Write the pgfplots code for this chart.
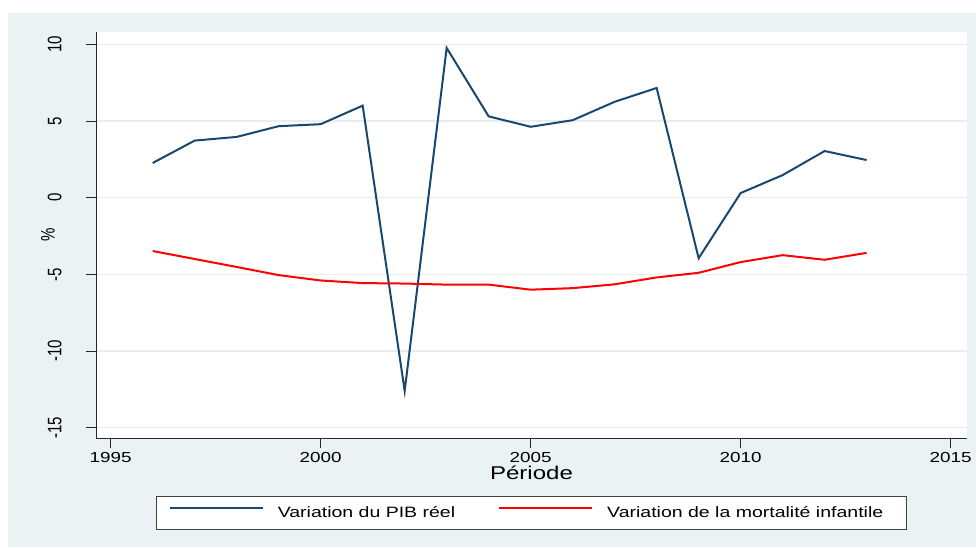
\documentclass[border=0pt]{standalone}
\usepackage{fontspec}
\setmainfont{Liberation Sans}[FakeStretch=1.3]
\newfontfamily\yfont{Liberation Sans}
\usepackage{graphicx}
\usepackage{pgfplots}
\pgfplotsset{compat=1.18}
\definecolor{stbg}{HTML}{EAF2F3}
\definecolor{stnavy}{HTML}{1A476F}
\definecolor{stgrid}{HTML}{E6EEF0}
\begin{document}
\begin{tikzpicture}[x=1pt,y=1pt]
\path[use as bounding box] (0,0) rectangle (976,547);
\fill[white] (0,0) rectangle (976,547);
\fill[stbg] (8,0) rectangle (976,534);
\begin{axis}[
  at={(96pt,109pt)}, anchor=south west, scale only axis,
  width=871pt, height=406pt,
  xmin=1994.65, xmax=2015.39, ymin=-15.67, ymax=10.8,
  axis background/.style={fill=white},
  axis x line*=bottom, axis y line*=left,
  axis line style={black!85, line width=0.9pt, -},
  xtick={1995,2000,...,2015}, ytick={-15,-10,...,10},
  tick align=outside, major tick length=10pt,
  tick style={black!85, line width=0.9pt},
  ymajorgrids, grid style={stgrid, line width=1.3pt},
  /pgf/number format/assume math mode=true,
  xticklabel style={/pgf/number format/1000 sep={}, font=\fontsize{14.5}{16}\selectfont, yshift=-1pt},
  yticklabel={\scalebox{1}[1.3]{\yfont\fontsize{15}{16}\selectfont\pgfmathprintnumber{\tick}}},
  yticklabel style={rotate=90, anchor=south, yshift=21pt},
  ylabel={\scalebox{1}[1.3]{\yfont\fontsize{15}{16}\selectfont\%}},
  ylabel style={at={(axis description cs:-0.0551,0.5)}, anchor=center},
  xlabel={Période},
  xlabel style={at={(axis description cs:0.5,-0.1034)}, anchor=base, font=\fontsize{18.5}{20}\selectfont},
  legend columns=2,
  legend style={at={(0.5,-0.1847)}, anchor=center, draw=black!75, fill=white, line width=0.8pt,
    font=\fontsize{15}{17}\selectfont, inner xsep=12pt, inner ysep=7.5pt,
    nodes={inner xsep=0pt, inner ysep=3pt},
    /tikz/every odd column/.append style={column sep=14pt},
    /tikz/every even column/.append style={column sep=43pt}},
]
\addplot[stnavy, line width=2pt,
  legend image code/.code={\draw[stnavy, line width=2pt] (0pt,5.3pt) -- (93pt,5.3pt);}] coordinates {
(1996,2.26) (1997,3.72) (1998,3.96) (1999,4.66) (2000,4.79) (2001,6.0)
(2002,-12.6) (2003,9.76) (2004,5.3) (2005,4.62) (2006,5.05) (2007,6.25)
(2008,7.15) (2009,-3.95) (2010,0.3) (2011,1.47) (2012,3.04) (2013,2.45)};
\addlegendentry{Variation du PIB réel}
\addplot[red, line width=2pt,
  legend image code/.code={\draw[red, line width=2pt] (0pt,5.3pt) -- (93pt,5.3pt);}] coordinates {
(1996,-3.48) (1997,-4.0) (1998,-4.52) (1999,-5.05) (2000,-5.4) (2001,-5.57)
(2002,-5.6) (2003,-5.67) (2004,-5.67) (2005,-6.0) (2006,-5.9) (2007,-5.65)
(2008,-5.2) (2009,-4.9) (2010,-4.2) (2011,-3.75) (2012,-4.05) (2013,-3.6)};
\addlegendentry{Variation de la mortalité infantile\hspace*{11pt}}
\end{axis}
\end{tikzpicture}
\end{document}
